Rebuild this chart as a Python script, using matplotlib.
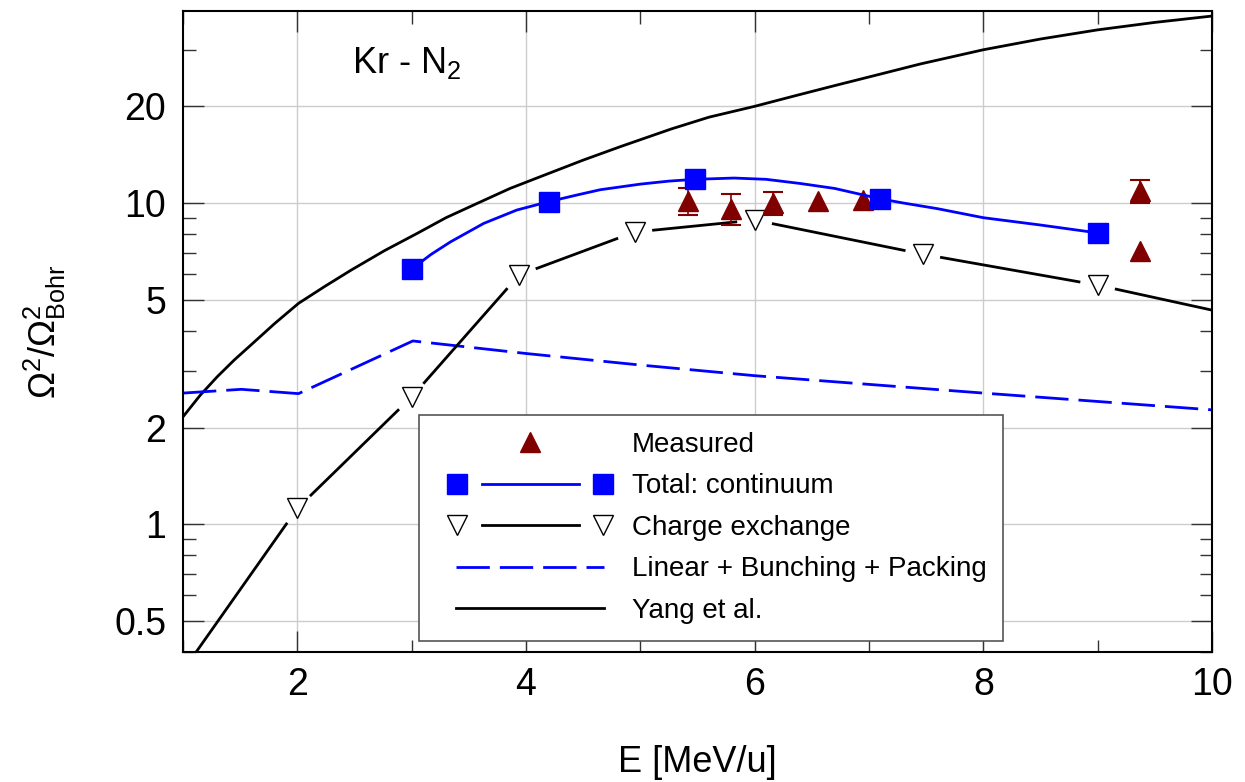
import numpy as np
import matplotlib
matplotlib.use('Agg')
import matplotlib.pyplot as plt
from matplotlib.lines import Line2D
from matplotlib.legend_handler import HandlerBase
from matplotlib.ticker import FixedLocator, FixedFormatter, NullFormatter

plt.rcParams['font.family'] = ['Liberation Sans', 'DejaVu Sans']
plt.rcParams['mathtext.fontset'] = 'custom'
plt.rcParams['mathtext.rm'] = 'Liberation Sans'
plt.rcParams['mathtext.it'] = 'Liberation Sans:italic'
plt.rcParams['mathtext.bf'] = 'Liberation Sans:bold'

# data
# measured (Kr - N2)
meas_E = [5.42, 5.79, 6.16, 6.55, 6.95, 9.37, 9.37]
meas_val = [10.15, 9.6, 10.0, 10.15, 10.25, 10.9, 7.07]
meas_err = [1.0, 1.05, 0.8, 0.0, 0.0, 0.9, 0.0]

# total: continuum (squares + smooth curve)
tot_E = [3.0, 4.2, 5.48, 7.1, 9.0]
tot_val = [6.23, 10.1, 11.85, 10.3, 8.07]
tot_curve_E = [3.0, 3.17, 3.34, 3.63, 3.92, 4.2, 4.45, 4.65, 5.0, 5.25, 5.48, 5.82,
               6.1, 6.4, 6.7, 7.1, 7.3, 7.6, 8.0, 8.5, 9.0]
tot_curve_val = [6.23, 6.92, 7.57, 8.64, 9.51, 10.1, 10.6, 11.0, 11.45, 11.7, 11.85, 11.96,
                 11.85, 11.5, 11.1, 10.3, 10.0, 9.6, 9.0, 8.54, 8.07]

# charge exchange (first and last are line ends without a visible marker)
ce_E = [1.0, 2.0, 3.0, 3.94, 4.95, 6.0, 7.47, 9.0, 10.0]
ce_val = [0.35, 1.12, 2.49, 5.97, 8.12, 8.85, 6.93, 5.55, 4.64]
ce_shown = [False, True, True, True, True, True, True, True, False]

# linear + bunching + packing
lbp_E = [1.0, 1.51, 2.01, 3.01, 4.0, 5.0, 6.0, 8.0, 10.0]
lbp_val = [2.56, 2.63, 2.55, 3.72, 3.40, 3.13, 2.90, 2.56, 2.27]

# Yang et al.
yang_E = [1.0, 1.15, 1.30, 1.45, 1.60, 1.80, 2.01, 2.24, 2.47, 2.76, 3.05, 3.3, 3.575,
          3.86, 4.157, 4.5, 4.83, 5.27, 5.6, 6.0, 6.36, 6.72, 7.1, 7.45, 8.0, 8.5,
          9.0, 9.5, 10.0]
yang_val = [2.16, 2.52, 2.88, 3.25, 3.63, 4.21, 4.87, 5.50, 6.18, 7.10, 8.05, 9.0, 9.98,
            11.1, 12.2, 13.6, 15.0, 17.0, 18.5, 20.0, 21.6, 23.3, 25.2, 27.1, 30.0, 32.4,
            34.6, 36.5, 38.2]

ytick_major = [0.5, 1, 2, 5, 10, 20]
ytick_labels = ['0.5', '1', '2', '5', '10', '20']
ytick_minor = [0.4, 0.6, 0.7, 0.8, 0.9, 3, 4, 6, 7, 8, 9, 30, 40]
xtick_major = [2, 4, 6, 8, 10]
xtick_minor = [1, 3, 5, 7, 9]

legend_labels = ['Measured', 'Total: continuum', 'Charge exchange',
                 'Linear + Bunching + Packing', 'Yang et al.']

DARKRED = '#800000'
BLUE = '#0000ff'
LW = 2.0
DASH = (12, 3.6)

meas_style = dict(marker='^', ms=15, color=DARKRED, mec=DARKRED, ls='none')
tot_style = dict(marker='s', ms=14.5, color=BLUE, mec=BLUE, ls='none')
ce_style = dict(marker='v', ms=15, mfc='white', mec='black', mew=1.0, ls='none')


def gapped_segments(ax, xs, ys, flags, gap_px):
    # shorten each segment in pixel space where a marker sits at its end
    pts = ax.transData.transform(np.column_stack([xs, ys]))
    inv = ax.transData.inverted()
    segs = []
    for i in range(len(pts) - 1):
        p0, p1 = pts[i], pts[i + 1]
        d = p1 - p0
        u = d / np.hypot(*d)
        a = p0 + u * gap_px if flags[i] else p0
        b = p1 - u * gap_px if flags[i + 1] else p1
        segs.append(inv.transform(np.array([a, b])))
    return segs


class PartsHandler(HandlerBase):
    def __init__(self, parts):
        super().__init__()
        self.parts = parts

    def create_artists(self, legend, orig_handle, xdescent, ydescent,
                       width, height, fontsize, trans):
        y = height / 2 - ydescent
        out = []
        for kind, pos, kw in self.parts:
            if kind == 'line':
                xs = [pos[0] * width - xdescent, pos[1] * width - xdescent]
                art = Line2D(xs, [y, y], **kw)
            else:
                art = Line2D([pos * width - xdescent], [y], **kw)
            art.set_transform(trans)
            out.append(art)
        return out


fig = plt.figure(figsize=(12.45, 7.82), dpi=100)
ax = fig.add_axes([0.147, 0.1662, 0.8265, 0.8197])
ax.set_yscale('log')
ax.set_xlim(1, 10)
ax.set_ylim(0.4, 39.6)

ax.yaxis.set_major_locator(FixedLocator(ytick_major))
ax.yaxis.set_major_formatter(FixedFormatter(ytick_labels))
ax.yaxis.set_minor_locator(FixedLocator(ytick_minor))
ax.yaxis.set_minor_formatter(NullFormatter())
ax.xaxis.set_major_locator(FixedLocator(xtick_major))
ax.xaxis.set_minor_locator(FixedLocator(xtick_minor))

ax.grid(True, which='major', color='#cccccc', lw=1.0, zorder=0)
ax.set_axisbelow(True)
ax.tick_params(which='both', direction='in', top=True, right=True,
               color='#333333', width=1.0, labelsize=27)
ax.tick_params(which='major', length=15)
ax.tick_params(which='minor', length=9)
ax.tick_params(axis='x', pad=11)
ax.tick_params(axis='y', pad=12)
for sp in ax.spines.values():
    sp.set_linewidth(1.5)

# Yang et al.
ax.plot(yang_E, yang_val, color='black', lw=LW, zorder=2)
# linear + bunching + packing
ax.plot(lbp_E, lbp_val, color=BLUE, lw=LW, dashes=DASH, zorder=2)

# charge exchange, line broken around markers
for seg in gapped_segments(ax, ce_E, ce_val, ce_shown, 19):
    ax.plot(seg[:, 0], seg[:, 1], color='black', lw=LW, zorder=3)
ce_E_arr = np.array(ce_E)[np.array(ce_shown)]
ce_val_arr = np.array(ce_val)[np.array(ce_shown)]
ax.plot(ce_E_arr, ce_val_arr, zorder=4, **ce_style)

# measured
m_E = np.array(meas_E)
m_val = np.array(meas_val)
m_err = np.array(meas_err)
has_err = m_err > 0
ax.errorbar(m_E[has_err], m_val[has_err], yerr=m_err[has_err], fmt='none',
            ecolor=DARKRED, elinewidth=1.2, capsize=7.5, capthick=1.5, zorder=5)
ax.plot(m_E, m_val, zorder=6, **meas_style)

# total: continuum
ax.plot(tot_curve_E, tot_curve_val, color=BLUE, lw=LW, zorder=7)
ax.plot(tot_E, tot_val, zorder=8, **tot_style)

ax.text(0.1642, 0.903, r'Kr - N$_2$', transform=ax.transAxes, fontsize=26,
        ha='left', va='baseline')

ax.set_xlabel('E [MeV/u]', fontsize=26, labelpad=30)
ax.set_ylabel(r'$\mathrm{Ω}^{2}/\mathrm{Ω}^{2}_{\mathrm{Bohr}}$', fontsize=26)
ax.yaxis.set_label_coords(-0.112, 0.5)

# legend
line_kw = dict(color='black', lw=LW)
handlers = [
    PartsHandler([('marker', 0.553, meas_style)]),
    PartsHandler([('marker', 0.1235, tot_style),
                  ('line', (0.27, 0.841), dict(color=BLUE, lw=LW)),
                  ('marker', 0.985, tot_style)]),
    PartsHandler([('marker', 0.1235, ce_style),
                  ('line', (0.27, 0.841), line_kw),
                  ('marker', 0.985, ce_style)]),
    PartsHandler([('line', (0.118, 0.988), dict(color=BLUE, lw=LW, dashes=DASH))]),
    PartsHandler([('line', (0.118, 0.988), line_kw)]),
]
proxies = [Line2D([], []) for _ in legend_labels]
leg = ax.legend(proxies, legend_labels, handler_map=dict(zip(proxies, handlers)),
                loc='upper left', bbox_to_anchor=(0.2293, 0.3697),
                fontsize=20, handlelength=6.12, handletextpad=0.94,
                borderpad=0.6, labelspacing=0.56, fancybox=False,
                framealpha=1.0, edgecolor='#555555', borderaxespad=0)
leg.get_frame().set_linewidth(1.2)
leg.set_zorder(10)

fig.savefig('out.png', dpi=100)
